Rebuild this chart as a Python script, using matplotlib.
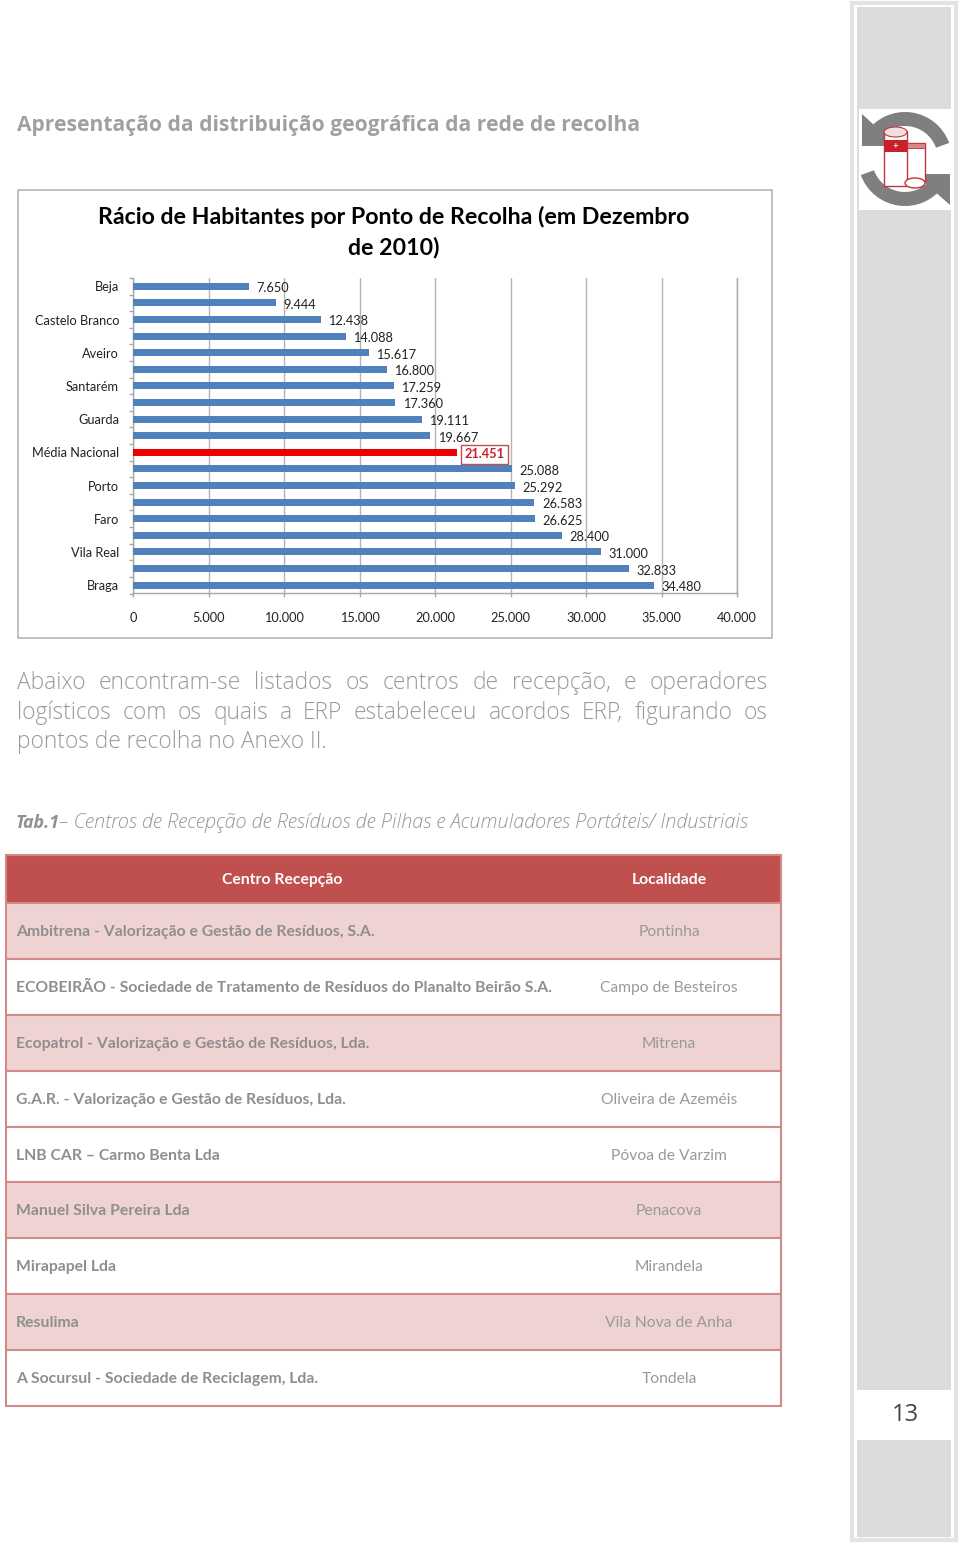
import numpy as np
import matplotlib
matplotlib.use('Agg')
import matplotlib.pyplot as plt
from matplotlib.patches import Rectangle, Wedge, Polygon, Ellipse

W, H = 960, 1545

# chart data
categories = ['Beja', '', 'Castelo Branco', '', 'Aveiro', '', 'Santarém', '', 'Guarda', '',
              'Média Nacional', '', 'Porto', '', 'Faro', '', 'Vila Real', '', 'Braga']
values = [7650, 9444, 12438, 14088, 15617, 16800, 17259, 17360, 19111, 19667,
          21451, 25088, 25292, 26583, 26625, 28400, 31000, 32833, 34480]
xticks = [0, 5000, 10000, 15000, 20000, 25000, 30000, 35000, 40000]

# table data
table_head = ['Centro Recepção', 'Localidade']
centros = ['Ambitrena - Valorização e Gestão de Resíduos, S.A.',
           'ECOBEIRÃO - Sociedade de Tratamento de Resíduos do Planalto Beirão S.A.',
           'Ecopatrol - Valorização e Gestão de Resíduos, Lda.',
           'G.A.R. - Valorização e Gestão de Resíduos, Lda.',
           'LNB CAR – Carmo Benta Lda',
           'Manuel Silva Pereira Lda',
           'Mirapapel Lda',
           'Resulima',
           'A Socursul - Sociedade de Reciclagem, Lda.']
localidades = ['Pontinha', 'Campo de Besteiros', 'Mitrena', 'Oliveira de Azeméis',
               'Póvoa de Varzim', 'Penacova', 'Mirandela', 'Vila Nova de Anha', 'Tondela']
row_edges = [903, 959, 1015, 1071, 1127, 1182, 1238, 1294, 1350, 1406]
row_shaded = [True, False, True, False, False, True, False, True, False]

paragraph = [['Abaixo', 'encontram-se', 'listados', 'os', 'centros', 'de', 'recepção,', 'e', 'operadores'],
             ['logísticos', 'com', 'os', 'quais', 'a', 'ERP', 'estabeleceu', 'acordos', 'ERP,', 'figurando', 'os']]
paragraph_end = 'pontos de recolha no Anexo II.'

FONT = 'Lato'
HEAD_FONT = 'Open Sans'
GREY = '#a0a0a0'


def fmt(v):
    return f'{v:,}'.replace(',', '.')


fig = plt.figure(figsize=(W / 100, H / 100), dpi=100, facecolor='white')

# page in pixel coords
page = fig.add_axes([0, 0, 1, 1])
page.set_xlim(0, W)
page.set_ylim(H, 0)
page.axis('off')

# side strip
page.add_patch(Rectangle((852, 3), 103.5, 1537, fc='white', ec='#e4e4e4', lw=3))
page.add_patch(Rectangle((857, 7), 94, 1530, fc='#dcdcdc', ec='none'))
page.add_patch(Rectangle((859, 109), 92, 101, fc='white', ec='none'))
page.add_patch(Rectangle((857, 1390), 94, 50, fc='white', ec='none'))
page.text(905, 1415, '13', ha='center', va='center', fontsize=17, color='#444444', family=HEAD_FONT)

# recycling icon
page.add_patch(Wedge((905, 159), 47, 215, 340, width=14, fc='#7f7f7f', ec='none'))
page.add_patch(Wedge((905, 159), 47, 35, 160, width=14, fc='#7f7f7f', ec='none'))
page.add_patch(Polygon([(862, 114), (862, 146), (897, 146)], fc='#7f7f7f', ec='none'))
page.add_patch(Polygon([(950, 205), (950, 174), (915, 174)], fc='#7f7f7f', ec='none'))
page.add_patch(Rectangle((906, 143), 19, 38, fc='white', ec='#c8323a', lw=1))
page.add_patch(Rectangle((906, 143), 19, 5, fc='#d8868a', ec='#c8323a', lw=0.6))
page.add_patch(Rectangle((884, 131), 23, 55, fc='white', ec='#c8323a', lw=1))
page.add_patch(Rectangle((884, 140), 23, 12, fc='#c8202a', ec='none'))
page.add_patch(Ellipse((895.5, 132), 23, 10, fc='#f0e0e0', ec='#c8323a', lw=0.8))
page.add_patch(Ellipse((915, 183), 20, 10, fc='white', ec='#c8323a', lw=1))
page.text(895, 146, '+', color='white', fontsize=7, ha='center', va='center', family=FONT)

# headings
page.text(17, 125, 'Apresentação da distribuição geográfica da rede de recolha', fontsize=15.1,
          weight='bold', color=GREY, va='center', family=HEAD_FONT)

# chart frame and title
page.add_patch(Rectangle((17.5, 190), 754.5, 448, fc='white', ec='#b4b4b4', lw=1.2))
page.text(394, 217, 'Rácio de Habitantes por Ponto de Recolha (em Dezembro', fontsize=16.65,
          weight='bold', ha='center', va='center', color='black', family=FONT)
page.text(394, 247, 'de 2010)', fontsize=16.65, weight='bold', ha='center', va='center',
          color='black', family=FONT)

# the bar chart itself
ax = fig.add_axes([133 / W, 1 - 593.5 / H, (737 - 133) / W, (593.5 - 278) / H])
ax.patch.set_alpha(0)
pos = np.arange(len(values))
colors = ['#ee0000' if c == 'Média Nacional' else '#4f81bd' for c in categories]
ax.barh(pos, values, height=0.42, color=colors, zorder=3)
ax.set_xlim(0, 40000)
ax.set_ylim(len(values) - 0.5, -0.5)
ax.set_xticks(xticks)
ax.set_xticklabels(['0'] + [fmt(t) for t in xticks[1:]], fontsize=9.2, color='#222222', family=FONT)
ax.set_yticks(pos)
ax.set_yticklabels(categories, fontsize=9.2, color='#222222', family=FONT)
ax.set_yticks(np.arange(len(values) + 1) - 0.5, minor=True)
ax.tick_params(axis='y', which='major', length=0, pad=10)
ax.tick_params(axis='y', which='minor', length=3, color='#a8a8a8', width=1)
ax.tick_params(axis='x', length=3, color='#a8a8a8', width=1, pad=10)
ax.grid(axis='x', color='#b4b4b4', lw=1, zorder=0)
ax.spines['top'].set_visible(False)
for s in ['left', 'bottom', 'right']:
    ax.spines[s].set_color('#a8a8a8')
    ax.spines[s].set_linewidth(1)

for p, v, c in zip(pos, values, categories):
    if c == 'Média Nacional':
        ax.annotate(fmt(v), (v, p), xytext=(5.5, -1.4), textcoords='offset points', va='center',
                    fontsize=9.2, weight='bold', color='#c8202a', family=FONT, zorder=5,
                    bbox=dict(boxstyle='square,pad=0.28', fc='white', ec='#c0504d', lw=1))
    else:
        ax.annotate(fmt(v), (v, p), xytext=(5.5, -1.4), textcoords='offset points', va='center',
                    fontsize=9.2, color='#222222', family=FONT, zorder=5)

# justified paragraph
fig.canvas.draw()
rend = fig.canvas.get_renderer()
PAR_KW = dict(fontsize=16.4, color='#999999', va='center', family=HEAD_FONT, weight='light')
for words, y in zip(paragraph, [683, 713]):
    ts = [page.text(0, y, w, **PAR_KW) for w in words]
    widths = [t.get_window_extent(rend).width for t in ts]
    gap = (768 - 17 - sum(widths)) / (len(words) - 1)
    x = 17
    for t, w in zip(ts, widths):
        t.set_x(x)
        x += w + gap
page.text(17, 742, paragraph_end, **PAR_KW)

# table caption
page.text(16, 823, 'Tab.1', fontsize=12.8, style='italic', weight='bold', color='#909090',
          va='center', family=HEAD_FONT)
page.text(59, 823, '– Centros de Recepção de Resíduos de Pilhas e Acumuladores Portáteis/ Industriais',
          fontsize=14.3, style='italic', color='#969696', va='center', family=HEAD_FONT, weight='light')

# table
TL, TR = 6, 781
LINE = '#d08a8a'
page.add_patch(Rectangle((TL, 855), TR - TL, row_edges[0] - 855, fc='#c0504d', ec=LINE, lw=1.5, zorder=2))
page.text(282, 880, table_head[0], fontsize=11.3, weight='bold', color='white', ha='center', va='center', family=FONT, zorder=4)
page.text(669, 880, table_head[1], fontsize=11.3, weight='bold', color='white', ha='center', va='center', family=FONT, zorder=4)
for i, (c, l) in enumerate(zip(centros, localidades)):
    top, bot = row_edges[i], row_edges[i + 1]
    fc = '#efd3d2' if row_shaded[i] else 'white'
    page.add_patch(Rectangle((TL, top), TR - TL, bot - top, fc=fc, ec=LINE, lw=1.5, zorder=2))
    ym = (top + bot) / 2 + 1
    page.text(16, ym, c, fontsize=11.35, weight='bold', color='#8e8e8e', va='center', family=FONT, zorder=4)
    page.text(669, ym, l, fontsize=11.25, color='#999999', ha='center', va='center', family=FONT, zorder=4)

fig.savefig('out.png', dpi=100)
